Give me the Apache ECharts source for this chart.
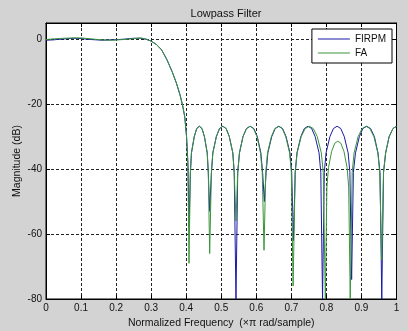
<!DOCTYPE html>
<html>
<head>
<meta charset="utf-8">
<script src="https://cdn.jsdelivr.net/npm/echarts@6/dist/echarts.min.js"></script>
<style>
  html, body { margin: 0; padding: 0; background: #d3d3d3; }
  #chart { width: 408px; height: 331px; }
</style>
</head>
<body>
<div id="chart"></div>
<script>
// x ticks
var xTicks = [0, 0.1, 0.2, 0.3, 0.4, 0.5, 0.6, 0.7, 0.8, 0.9, 1];

// FIRPM (blue) frequency / magnitude (dB)
var firpmFreq = [0, 0.02, 0.05, 0.08, 0.1, 0.13, 0.16, 0.19, 0.22, 0.25, 0.27, 0.285,
  0.30, 0.315, 0.33, 0.345, 0.36, 0.372, 0.382, 0.39, 0.396, 0.401, 0.405, 0.408,
  0.412, 0.415, 0.423, 0.430, 0.4375, 0.445, 0.452, 0.460, 0.463, 0.467,
  0.472, 0.476, 0.486, 0.495, 0.5045, 0.514, 0.523, 0.533, 0.537, 0.542,
  0.547, 0.552, 0.562, 0.572, 0.5825, 0.593, 0.603, 0.613, 0.618, 0.623,
  0.628, 0.633, 0.644, 0.654, 0.6645, 0.675, 0.685, 0.696, 0.701, 0.706,
  0.711, 0.716, 0.727, 0.737, 0.7475, 0.758, 0.768, 0.779, 0.784, 0.789,
  0.794, 0.799, 0.810, 0.820, 0.8305, 0.841, 0.851, 0.862, 0.867, 0.872,
  0.877, 0.883, 0.894, 0.904, 0.915, 0.926, 0.937, 0.947, 0.953, 0.958,
  0.963, 0.969, 0.979, 0.990, 1.0];
var firpmMag = [-0.3, -0.2, 0.1, 0.3, 0.2, -0.1, -0.3, -0.2, 0.0, 0.3, 0.3, 0,
  -0.6, -1.6, -3.3, -6.3, -10, -13.5, -17, -20.5, -24, -30, -38, -58,
  -41, -35, -30, -27.5, -26.8, -27.5, -30, -35, -41, -53,
  -41, -35, -30, -27.5, -26.8, -27.5, -30, -35, -41, -80,
  -41, -35, -30, -27.5, -26.8, -27.5, -30, -35, -41, -50,
  -41, -35, -30, -27.5, -26.8, -27.5, -30, -35, -41, -62,
  -41, -35, -30, -27.5, -26.8, -27.5, -30, -35, -41, -80,
  -41, -35, -30, -27.5, -26.8, -27.5, -30, -35, -41, -74,
  -41, -35, -30, -27.5, -26.8, -27.5, -30, -35, -41, -80,
  -41, -35, -30, -27.5, -26.8];

// FA (green) frequency / magnitude (dB)
var faFreq = [0, 0.02, 0.05, 0.08, 0.1, 0.13, 0.16, 0.19, 0.22, 0.25, 0.27, 0.285,
  0.30, 0.315, 0.33, 0.345, 0.36, 0.372, 0.382, 0.39, 0.396, 0.401, 0.405, 0.408,
  0.412, 0.415, 0.423, 0.430, 0.4375, 0.445, 0.452, 0.460, 0.463, 0.467,
  0.472, 0.476, 0.486, 0.495, 0.5045, 0.514, 0.523, 0.533, 0.537, 0.542,
  0.547, 0.552, 0.562, 0.572, 0.582, 0.592, 0.602, 0.612, 0.617, 0.622,
  0.627, 0.632, 0.643, 0.653, 0.6635, 0.674, 0.684, 0.695, 0.700, 0.705,
  0.711, 0.7165, 0.728, 0.7395, 0.751, 0.7625, 0.774, 0.7855, 0.791, 0.797,
  0.8014, 0.806, 0.815, 0.824, 0.8325, 0.841, 0.850, 0.859, 0.8636, 0.868,
  0.8736, 0.879, 0.8905, 0.902, 0.913, 0.924, 0.9355, 0.947, 0.952, 0.958,
  0.963, 0.969, 0.979, 0.990, 1.0];
var faMag = [-0.1, 0.1, 0.3, 0.4, 0.4, 0.1, -0.2, -0.3, -0.1, 0.2, 0.4, 0.1,
  -0.6, -1.6, -3.3, -6.3, -10, -13.5, -17, -20.5, -24, -30, -40, -69,
  -41, -35, -30, -27.5, -26.8, -27.5, -30, -35, -41, -66,
  -41, -35, -30, -27.5, -26.8, -27.5, -30, -35, -41, -56,
  -41, -35, -30, -27.5, -26.8, -27.5, -30, -35, -41, -65,
  -41, -35, -30, -27.5, -26.8, -27.5, -30, -35, -41, -76,
  -41, -35, -30, -27.5, -26.8, -27.5, -30, -35, -41, -80,
  -45.5, -39.5, -34.5, -32, -31.4, -32, -34.5, -39.5, -45.5, -80,
  -41, -35, -30, -27.5, -26.8, -27.5, -30, -35, -41, -68,
  -41, -35, -30, -27.5, -26.8];

function zip(xs, ys) {
  var out = [];
  for (var i = 0; i < xs.length; i++) out.push([xs[i], ys[i]]);
  return out;
}

var myChart = echarts.init(document.getElementById('chart'));
var font = 'Liberation Sans, Arial, sans-serif';

var option = {
  backgroundColor: '#d3d3d3',
  animation: false,
  textStyle: { fontFamily: font },
  title: {
    text: 'Lowpass Filter',
    left: 221,
    textAlign: 'center',
    top: 3,
    textStyle: { fontSize: 11, fontWeight: 'normal', color: '#111', fontFamily: font }
  },
  legend: {
    orient: 'vertical',
    right: 16,
    top: 29,
    icon: 'rect',
    backgroundColor: '#fff',
    borderColor: '#000',
    borderWidth: 1,
    borderRadius: 0,
    padding: [4, 6, 4, 6],
    itemWidth: 32,
    itemHeight: 1,
    itemGap: 2,
    textStyle: { fontSize: 10, color: '#111', fontFamily: font, lineHeight: 12 },
    data: ['FIRPM', 'FA']
  },
  grid: {
    left: 46, right: 11.5, top: 23, bottom: 32,
    outerBoundsMode: 'none',
    show: true, backgroundColor: '#fff', borderColor: '#000', borderWidth: 1
  },
  xAxis: [{
    type: 'value', min: 0, max: 1, interval: 0.1,
    name: 'Normalized Frequency  (\u00d7\u03c0 rad/sample)',
    nameLocation: 'middle', nameGap: 18,
    nameTextStyle: { fontSize: 10.5, color: '#111', fontFamily: font },
    axisLine: { onZero: false, lineStyle: { color: '#000' } },
    axisTick: { inside: true, length: 4, lineStyle: { color: '#000' } },
    axisLabel: {
      fontSize: 10, color: '#111', margin: 4, fontFamily: font,
      formatter: function (v) { return String(parseFloat(v.toFixed(1))); }
    },
    splitLine: { show: true, lineStyle: { type: [3, 2], color: '#222' } }
  }, {
    type: 'value', min: 0, max: 1, interval: 0.1, position: 'top',
    axisLine: { onZero: false, lineStyle: { color: '#000' } },
    axisTick: { inside: true, length: 4, lineStyle: { color: '#000' } },
    axisLabel: { show: false },
    splitLine: { show: false }
  }],
  yAxis: [{
    type: 'value', min: -80, max: 5, interval: 20,
    name: 'Magnitude (dB)',
    nameLocation: 'middle', nameGap: 23, nameMoveOverlap: false,
    nameTextStyle: { fontSize: 10.5, color: '#111', fontFamily: font },
    axisLine: { onZero: false, lineStyle: { color: '#000' } },
    axisTick: { inside: true, length: 4, lineStyle: { color: '#000' } },
    axisLabel: {
      fontSize: 10, color: '#111', margin: 4, fontFamily: font, showMaxLabel: false,
      formatter: function (v) { return v % 20 === 0 ? String(v) : ''; }
    },
    splitLine: { show: true, lineStyle: { type: [3, 2], color: '#222' } }
  }, {
    type: 'value', min: -80, max: 5, interval: 20, position: 'right',
    axisLine: { onZero: false, lineStyle: { color: '#000' } },
    axisTick: { inside: true, length: 4, lineStyle: { color: '#000' } },
    axisLabel: { show: false },
    splitLine: { show: false }
  }],
  series: [{
    name: 'FIRPM',
    type: 'line',
    symbol: 'none',
    clip: true,
    data: zip(firpmFreq, firpmMag),
    lineStyle: { color: '#1a1aa6', width: 1 },
    itemStyle: { color: '#1a1aa6' }
  }, {
    name: 'FA',
    type: 'line',
    symbol: 'none',
    clip: true,
    data: zip(faFreq, faMag),
    lineStyle: { color: '#3a963a', width: 1 },
    itemStyle: { color: '#3a963a' }
  }]
};

myChart.setOption(option);
</script>
</body>
</html>
